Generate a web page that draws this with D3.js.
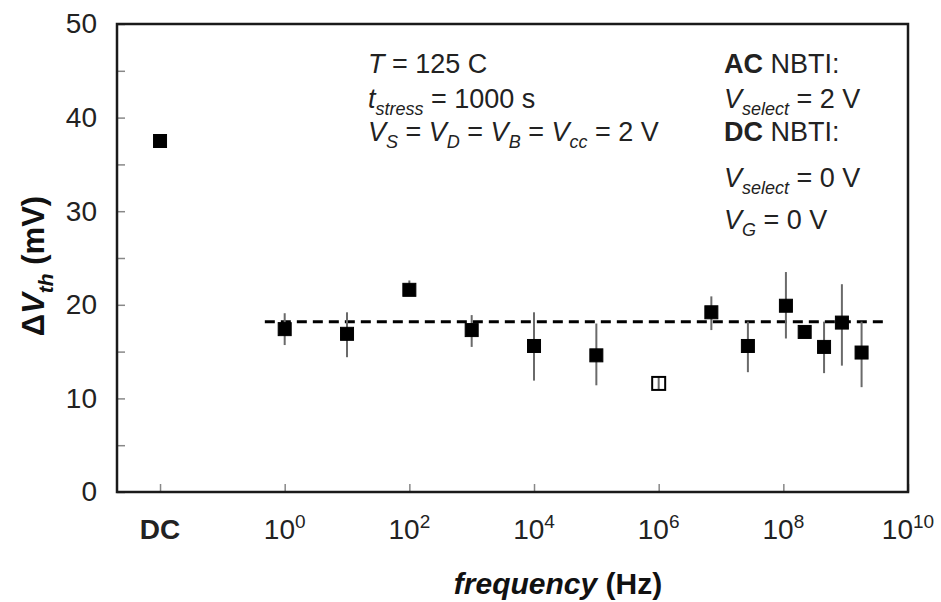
<!DOCTYPE html>
<html>
<head>
<meta charset="utf-8">
<script src="https://cdn.jsdelivr.net/npm/d3@7"></script>
<style>
  body { margin: 0; background: #fff; }
  svg { font-family: "Liberation Sans", Arial, sans-serif; }
</style>
</head>
<body>
<svg id="chart" width="941" height="602"></svg>
<script>
// DC stress point
const dc_value = 37.5;
const dc_err = [37.2, 37.8];

// AC stress points (Hz, mV)
const ac_freqs = [1, 10, 100, 1e3, 1e4, 1e5, 1e6, 7e6, 2.7e7, 1.1e8, 2.2e8, 4.5e8, 8.7e8, 1.8e9];
const ac_values = [17.4, 16.9, 21.6, 17.3, 15.6, 14.6, 11.6, 19.2, 15.6, 19.9, 17.1, 15.5, 18.1, 14.9];
const ac_err_low = [15.7, 14.4, 21.0, 15.5, 11.9, 11.4, 10.9, 17.3, 12.8, 16.4, 16.6, 12.7, 13.5, 11.2];
const ac_err_high = [19.1, 19.2, 22.6, 18.9, 19.2, 18.0, 12.3, 20.9, 18.2, 23.5, 17.6, 18.2, 22.2, 18.2];
const ac_open = [false, false, false, false, false, false, true, false, false, false, false, false, false, false];

// average line
const mean_value = 18.2;
const mean_span = [0.48, 4e9];

const x_tick_exponents = [0, 2, 4, 6, 8, 10];
const y_ticks = [0, 5, 10, 15, 20, 25, 30, 35, 40, 45, 50];
const dc_slot = 1e-2; // where "DC" sits on the frequency axis

const plot_left = 117;
const plot_right = 908;
const plot_top = 24;
const plot_bottom = 492;
const marker_size = 13;

const svg = d3.select("#chart");

const x = d3.scaleLog().domain([0.00204, 1e10]).range([plot_left, plot_right]);
const y = d3.scaleLinear().domain([0, 50]).range([plot_bottom, plot_top]);

// write mixed-style text: segments are [text, options]
function rich_text(sel, segments, sub_size, sub_drop) {
  let shift = 0;
  segments.forEach(([t, o]) => {
    o = o || {};
    const span = sel.append("tspan").text(t);
    let target = 0;
    if (o.sub) target = sub_drop || 8;
    if (o.sup) target = -11;
    if (target !== shift) {
      span.attr("dy", target - shift);
      shift = target;
    }
    if (o.sub || o.sup) span.attr("font-size", sub_size);
    if (o.italic) span.attr("font-style", "italic");
    if (o.bold) span.attr("font-weight", "bold");
  });
}

// y axis
const y_axis = d3
  .axisLeft(y)
  .tickValues(y_ticks)
  .tickSize(-8)
  .tickPadding(20)
  .tickFormat((d) => (d % 10 === 0 ? d : ""));
const gy = svg.append("g").attr("transform", `translate(${plot_left},0)`).call(y_axis);
gy.select(".domain").remove();
gy.selectAll(".tick line").attr("stroke", "#888").attr("stroke-width", 1.5);
gy.selectAll(".tick text").attr("font-size", 28).attr("fill", "#222").attr("font-family", null);

// x axis
const x_tick_values = [dc_slot].concat(x_tick_exponents.map((e) => Math.pow(10, e)));
const x_axis = d3.axisBottom(x).tickValues(x_tick_values).tickSize(-8).tickFormat(() => "");
const gx = svg.append("g").attr("transform", `translate(0,${plot_bottom})`).call(x_axis);
gx.select(".domain").remove();
gx.selectAll(".tick line").attr("stroke", "#888").attr("stroke-width", 1.5);
gx.selectAll(".tick text").remove();

const x_labels = svg.append("g").attr("font-size", 28).attr("fill", "#222");
x_labels
  .append("text")
  .attr("x", x(dc_slot))
  .attr("y", 539)
  .attr("text-anchor", "middle")
  .attr("font-weight", "bold")
  .text("DC");
x_tick_exponents.forEach((e) => {
  const t = x_labels
    .append("text")
    .attr("x", x(Math.pow(10, e)))
    .attr("y", 539)
    .attr("text-anchor", "middle");
  rich_text(t, [["10"], [String(e), { sup: true }]], 19);
});

// frame
svg
  .append("rect")
  .attr("x", plot_left)
  .attr("y", plot_top)
  .attr("width", plot_right - plot_left)
  .attr("height", plot_bottom - plot_top)
  .attr("fill", "none")
  .attr("stroke", "#1a1a1a")
  .attr("stroke-width", 2.5);

// axis titles
const y_title = svg
  .append("text")
  .attr("transform", `translate(44,266) rotate(-90)`)
  .attr("text-anchor", "middle")
  .attr("font-size", 31)
  .attr("font-weight", "bold")
  .attr("fill", "#111");
rich_text(y_title, [["Δ"], ["V", { italic: true }], ["th", { sub: true, italic: true }], [" (mV)"]], 21, 9);

const x_title = svg
  .append("text")
  .attr("x", 558)
  .attr("y", 594)
  .attr("text-anchor", "middle")
  .attr("font-size", 30)
  .attr("font-weight", "bold")
  .attr("fill", "#111");
rich_text(x_title, [["frequency", { italic: true }], [" (Hz)"]], 19);

// average line
svg
  .append("line")
  .attr("x1", x(mean_span[0]))
  .attr("x2", x(mean_span[1]))
  .attr("y1", y(mean_value))
  .attr("y2", y(mean_value))
  .attr("stroke", "#000")
  .attr("stroke-width", 3)
  .attr("stroke-dasharray", "10,6");

// points
const points = ac_freqs.map((f, i) => ({
  f: f,
  v: ac_values[i],
  lo: ac_err_low[i],
  hi: ac_err_high[i],
  open: ac_open[i],
}));
points.unshift({ f: dc_slot, v: dc_value, lo: dc_err[0], hi: dc_err[1], open: false });

svg
  .append("g")
  .selectAll("line")
  .data(points)
  .join("line")
  .attr("x1", (d) => x(d.f))
  .attr("x2", (d) => x(d.f))
  .attr("y1", (d) => y(d.lo))
  .attr("y2", (d) => y(d.hi))
  .attr("stroke", "#6a6a6a")
  .attr("stroke-width", 2);

svg
  .append("g")
  .selectAll("rect")
  .data(points)
  .join("rect")
  .attr("x", (d) => x(d.f) - marker_size / 2)
  .attr("y", (d) => y(d.v) - marker_size / 2)
  .attr("width", marker_size)
  .attr("height", marker_size)
  .attr("fill", (d) => (d.open ? "none" : "#000"))
  .attr("stroke", "#000")
  .attr("stroke-width", (d) => (d.open ? 2 : 1));

// annotations
const notes = svg.append("g").attr("font-size", 27).attr("fill", "#222");
const left_lines = [
  [73, [["T", { italic: true }], [" = 125 C"]]],
  [108, [["t", { italic: true }], ["stress", { sub: true, italic: true }], [" = 1000 s"]]],
  [141, [["V", { italic: true }], ["S", { sub: true, italic: true }], [" = "], ["V", { italic: true }], ["D", { sub: true, italic: true }], [" = "], ["V", { italic: true }], ["B", { sub: true, italic: true }], [" = "], ["V", { italic: true }], ["cc", { sub: true, italic: true }], [" = 2 V"]]],
];
const right_lines = [
  [73, [["AC", { bold: true }], [" NBTI:"]]],
  [108, [["V", { italic: true }], ["select", { sub: true, italic: true }], [" = 2 V"]]],
  [141, [["DC", { bold: true }], [" NBTI:"]]],
  [187, [["V", { italic: true }], ["select", { sub: true, italic: true }], [" = 0 V"]]],
  [229, [["V", { italic: true }], ["G", { sub: true, italic: true }], [" = 0 V"]]],
];
left_lines.forEach(([yy, segs]) => {
  rich_text(notes.append("text").attr("x", 368).attr("y", yy), segs, 18, 7);
});
right_lines.forEach(([yy, segs]) => {
  rich_text(notes.append("text").attr("x", 724).attr("y", yy), segs, 18, 7);
});
</script>
</body>
</html>
